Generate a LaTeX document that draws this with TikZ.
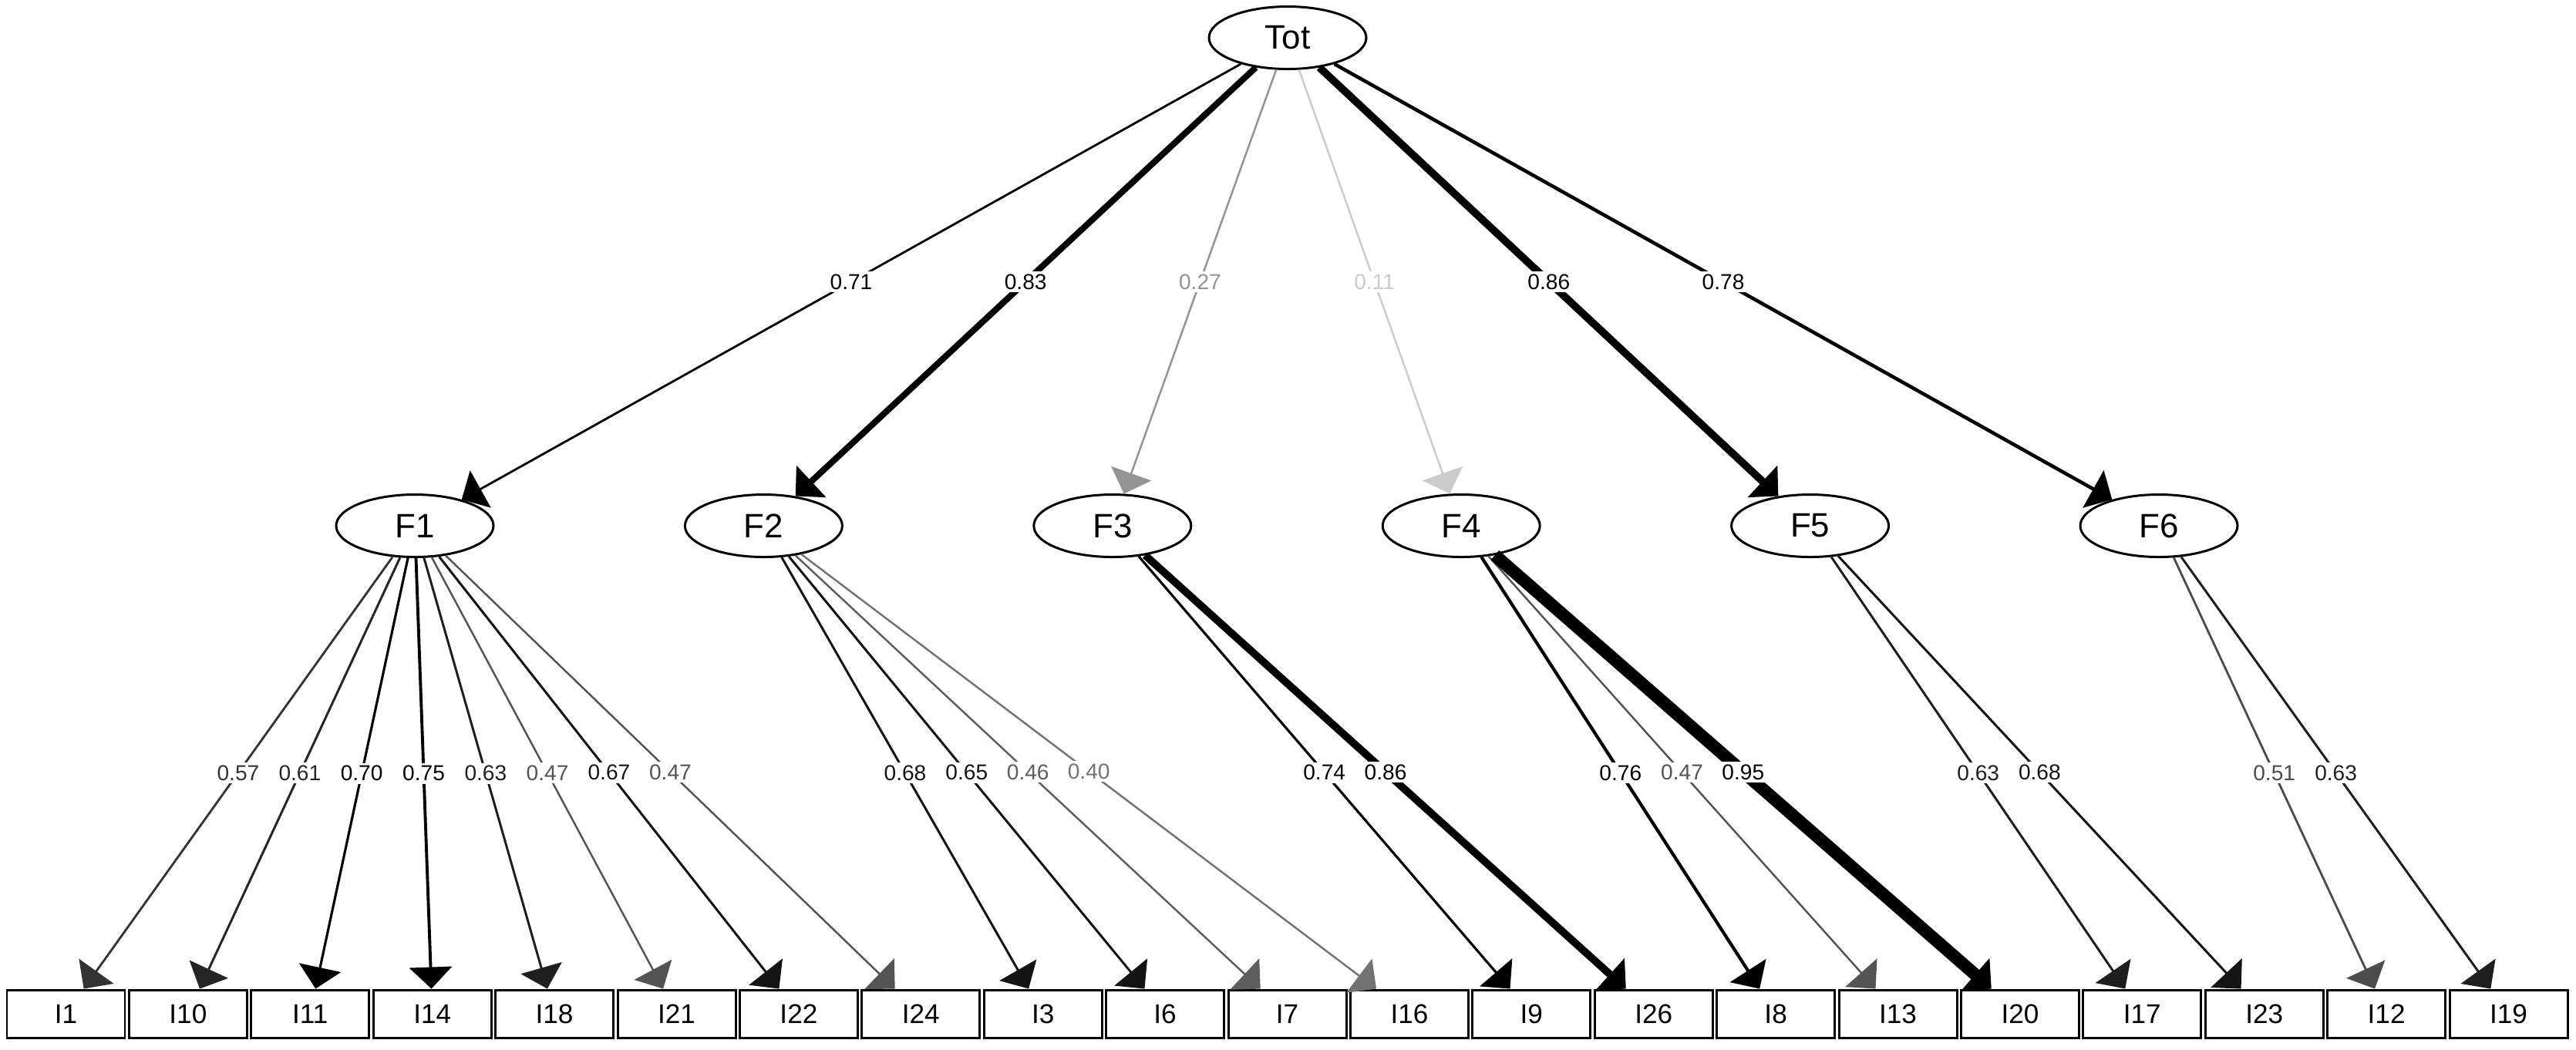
\documentclass[tikz,border=0pt]{standalone}
\usepackage{fontspec}
\setmainfont{Liberation Sans}
\usepackage{tikz}
\usetikzlibrary{positioning,shapes.geometric,arrows.meta}

\tikzset{
  latent/.style={draw, ellipse, line width=0.85pt, minimum width=2.04cm,
    minimum height=0.81cm, inner sep=0pt, font=\fontsize{12.5}{12.5}\selectfont},
  item/.style={draw, rectangle, line width=0.85pt, minimum width=1.53cm,
    minimum height=0.62cm, inner sep=0pt, font=\fontsize{10}{10}\selectfont},
  load/.style={fill=white, inner sep=1pt, font=\fontsize{8}{8}\selectfont},
  pfeil/.style={-{Triangle[length=0.28cm,width=0.55cm]}}
}

\begin{document}
\begin{tikzpicture}
  \useasboundingbox (0,0) rectangle (33.41,-13.61);

  % Gesamtfaktor und Faktoren
  \node[latent] (Tot) at (16.70,-0.49) {Tot};
  \foreach \n/\x in {1/5.38, 2/9.904, 3/14.428, 4/18.952, 5/23.476, 6/28.00}{
    \node[latent] (F\n) at (\x,-6.82) {F\n};
  }

  % Items
  \foreach \name [count=\i from 0] in {1,10,11,14,18,21,22,24,3,6,7,16,9,26,8,13,20,17,23,12,19}{
    \node[item] (I\name) at ({0.855+1.584*\i},-13.15) {I\name};
  }

  % Ladungen Tot -> F
  \foreach \ziel/\w/\c/\lab in {F1/0.8pt/black/0.71, F2/2.3pt/black/0.83,
                                F3/0.7pt/black!42/0.27, F4/0.7pt/black!20/0.11,
                                F5/2.8pt/black/0.86, F6/1.3pt/black/0.78}{
    \draw[pfeil, line width=\w, color=\c] (Tot) -- node[load, text=\c] {\lab} (\ziel);
  }

  % Ladungen F -> Items
  \foreach \von/\ziel/\w/\c/\lab in {F1/I1/0.8pt/black!80/0.57, F1/I10/0.85pt/black!85/0.61,
                                     F1/I11/0.9pt/black/0.70, F1/I14/1.1pt/black/0.75,
                                     F1/I18/0.85pt/black!88/0.63, F1/I21/0.7pt/black!67/0.47,
                                     F1/I22/0.85pt/black!92/0.67, F1/I24/0.7pt/black!67/0.47,
                                     F2/I3/0.85pt/black!92/0.68, F2/I6/0.85pt/black!92/0.65,
                                     F2/I7/0.7pt/black!63/0.46, F2/I16/0.7pt/black!55/0.40,
                                     F3/I9/0.9pt/black/0.74, F3/I26/2.8pt/black/0.86,
                                     F4/I8/1.2pt/black/0.76, F4/I13/0.7pt/black!67/0.47,
                                     F4/I20/4.6pt/black/0.95,
                                     F5/I17/0.85pt/black!88/0.63, F5/I23/0.85pt/black!92/0.68,
                                     F6/I12/0.8pt/black!70/0.51, F6/I19/0.85pt/black!88/0.63}{
    \draw[pfeil, line width=\w, color=\c] (\von) -- node[load, text=\c] {\lab} (\ziel);
  }

\end{tikzpicture}
\end{document}
